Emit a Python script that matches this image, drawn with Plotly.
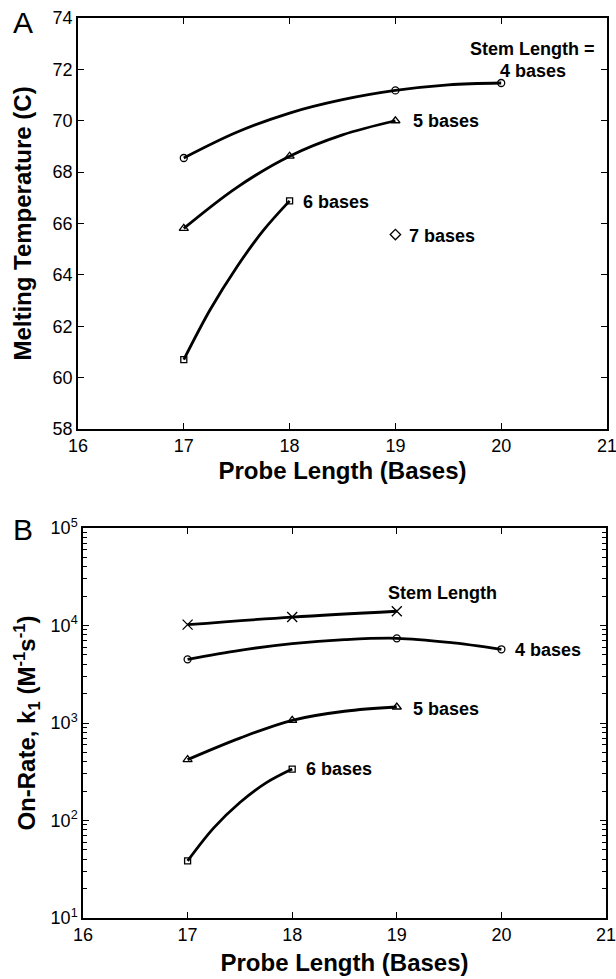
import plotly.graph_objects as go

# probe lengths (bases)
probe = [17, 18, 19, 20]

# Panel A - melting temperature (C), markers
tm_4_x = [17, 19, 20]
tm_4_y = [68.55, 71.18, 71.47]
tm_5_x = [17, 18, 19]
tm_5_y = [65.81, 68.62, 70.0]
tm_6_x = [17, 18]
tm_6_y = [60.7, 66.88]
tm_7_x = [19]
tm_7_y = [65.57]

# Panel A - fitted curves
tm_4_fit_x = [17, 17.5, 18, 18.5, 19, 19.5, 20]
tm_4_fit_y = [68.55, 69.55, 70.3, 70.82, 71.18, 71.4, 71.47]
tm_5_fit_x = [17, 17.5, 18, 18.5, 19]
tm_5_fit_y = [65.81, 67.4, 68.62, 69.45, 70.0]
tm_6_fit_x = [17, 17.25, 17.5, 17.75, 18]
tm_6_fit_y = [60.7, 62.65, 64.3, 65.72, 66.88]

# Panel B - on-rate (M^-1 s^-1), markers
kon_3_x = [17, 18, 19]
kon_3_y = [10200, 12200, 14000]
kon_4_x = [17, 19, 20]
kon_4_y = [4500, 7390, 5700]
kon_5_x = [17, 18, 19]
kon_5_y = [421, 1066, 1459]
kon_6_x = [17, 18]
kon_6_y = [38.5, 337]

# Panel B - fitted curves
kon_4_fit_x = [17, 17.5, 18, 18.5, 19, 19.5, 20]
kon_4_fit_y = [4500, 5570, 6520, 7160, 7390, 6700, 5700]
kon_5_fit_x = [17, 17.5, 18, 18.5, 19]
kon_5_fit_y = [421, 700, 1066, 1320, 1459]
kon_6_fit_x = [17, 17.25, 17.5, 17.75, 18]
kon_6_fit_y = [38.5, 84, 153, 243, 337]

log_ticks = [10, 100, 1000, 10000, 100000]
log_labels = ["10<sup>1</sup>", "10<sup>2</sup>", "10<sup>3</sup>", "10<sup>4</sup>", "10<sup>5</sup>"]

FONT = "Liberation Sans"
W, H = 616, 979

fig = go.Figure()


def curve(x, y, xa, ya):
    fig.add_trace(go.Scatter(x=x, y=y, mode="lines", xaxis=xa, yaxis=ya,
                             line=dict(color="black", width=2.8, shape="spline"),
                             hoverinfo="skip", showlegend=False))


def marks(x, y, xa, ya, symbol, size=7):
    fig.add_trace(go.Scatter(x=x, y=y, mode="markers", xaxis=xa, yaxis=ya,
                             marker=dict(symbol=symbol, size=size, color="black",
                                         line=dict(color="black", width=1.3)),
                             showlegend=False))


curve(tm_4_fit_x, tm_4_fit_y, "x", "y")
curve(tm_5_fit_x, tm_5_fit_y, "x", "y")
curve(tm_6_fit_x, tm_6_fit_y, "x", "y")
marks(tm_4_x, tm_4_y, "x", "y", "circle-open")
marks(tm_5_x, tm_5_y, "x", "y", "triangle-up-open", 8)
marks(tm_6_x, tm_6_y, "x", "y", "square-open", 6)
marks(tm_7_x, tm_7_y, "x", "y", "diamond-open", 8)

curve(kon_3_x, kon_3_y, "x2", "y2")
curve(kon_4_fit_x, kon_4_fit_y, "x2", "y2")
curve(kon_5_fit_x, kon_5_fit_y, "x2", "y2")
curve(kon_6_fit_x, kon_6_fit_y, "x2", "y2")
marks(kon_3_x, kon_3_y, "x2", "y2", "x-thin-open", 10)
marks(kon_4_x, kon_4_y, "x2", "y2", "circle-open")
marks(kon_5_x, kon_5_y, "x2", "y2", "triangle-up-open", 8)
marks(kon_6_x, kon_6_y, "x2", "y2", "square-open", 6)

axis_style = dict(showline=True, linecolor="black", linewidth=1.5, mirror="ticks",
                  ticks="inside", ticklen=6, tickwidth=1.3, tickcolor="black",
                  showgrid=False, zeroline=False, automargin=False,
                  tickfont=dict(family=FONT, size=18, color="black"))
title_font = dict(family=FONT, size=24, color="black", weight="bold")

fig.update_layout(
    width=W, height=H,
    margin=dict(l=0, r=0, t=0, b=0),
    paper_bgcolor="white", plot_bgcolor="white",
    xaxis=dict(domain=[78 / W, 607 / W], range=[16, 21], dtick=1, anchor="y",
               ticklabeloverflow="allow",
               title=dict(text="Probe Length (Bases)", font=title_font, standoff=7),
               **axis_style),
    yaxis=dict(domain=[1 - 429 / H, 1 - 18 / H], range=[58, 74], dtick=2, anchor="x",
               ticklabeloverflow="allow",
               title=dict(text="Melting Temperature (C)", font=title_font, standoff=14),
               **axis_style),
    xaxis2=dict(domain=[83 / W, 606 / W], range=[16, 21], dtick=1, anchor="y2",
                ticklabeloverflow="allow",
                title=dict(text="Probe Length (Bases)", font=title_font, standoff=10),
                **axis_style),
    yaxis2=dict(domain=[1 - 918 / H, 1 - 528 / H], type="log", range=[1, 5], anchor="x2",
                tickvals=log_ticks, ticktext=log_labels, ticklabeloverflow="allow",
                minor=dict(ticks="inside", ticklen=4, tickwidth=1, tickcolor="black",
                           tickvals=[m * 10 ** d for d in range(1, 5) for m in range(2, 10)]),
                title=dict(text="On-Rate, k<sub>1</sub> (M<sup>-1</sup>s<sup>-1</sup>)",
                           font=title_font, standoff=8),
                **axis_style),
    font=dict(family=FONT, color="black"),
)

label_font = dict(family=FONT, size=18, color="black", weight="bold")
labels_a = [
    (19.15, 70.0, "5 bases", "left"),
    (18.11, 66.85, "6 bases", "left"),
    (19.11, 65.5, "7 bases", "left"),
    (20.30, 72.8, "Stem Length =", "center"),
    (20.30, 71.95, "4 bases", "center"),
]
for x, y, t, anc in labels_a:
    fig.add_annotation(x=x, y=y, xref="x", yref="y", text=t, showarrow=False,
                       xanchor=anc, yanchor="middle", font=label_font)

labels_b = [
    (19.44, 4.337, "Stem Length", "center"),
    (20.11, 3.75, "4 bases", "left"),
    (19.14, 3.148, "5 bases", "left"),
    (18.11, 2.531, "6 bases", "left"),
]
for x, y, t, anc in labels_b:
    fig.add_annotation(x=x, y=y, xref="x2", yref="y2", text=t, showarrow=False,
                       xanchor=anc, yanchor="middle", font=label_font)

for t, ypx in [("A", 23), ("B", 529)]:
    fig.add_annotation(x=23 / W, y=1 - ypx / H, xref="paper", yref="paper", text=t,
                       showarrow=False, xanchor="center", yanchor="middle",
                       font=dict(family=FONT, size=30, color="black"))

# drop the browser's default body margin so the figure sits at the page origin
fig.write_html("out.html", config={"displayModeBar": False},
               post_script="document.body.style.margin='0px';document.body.style.overflow='hidden';")
